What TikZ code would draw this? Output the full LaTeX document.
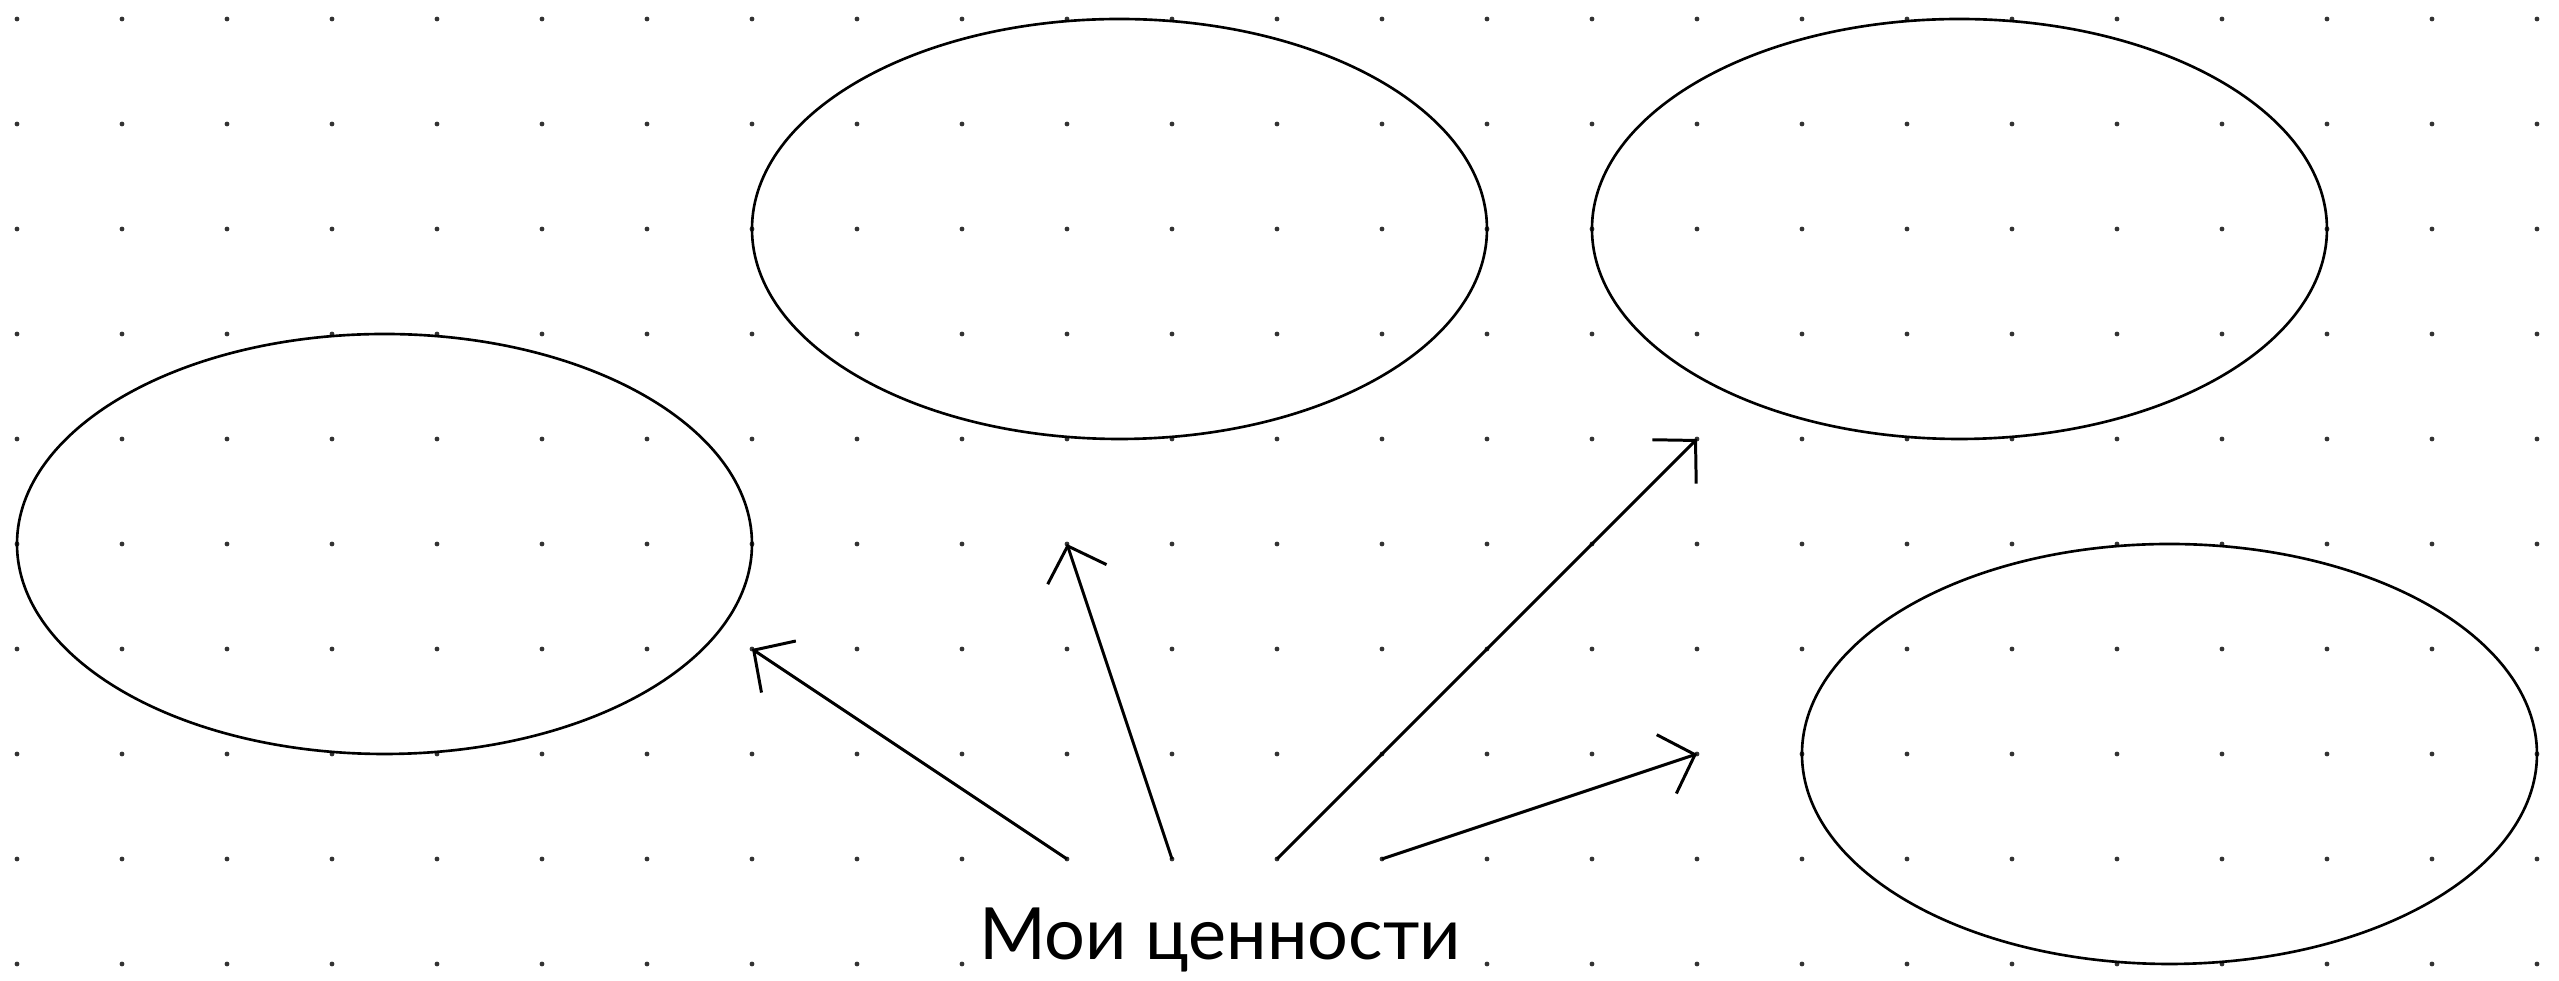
\documentclass[tikz,border=0pt]{standalone}
\usepackage{fontspec}
\newfontfamily\lblfont{Lato}
\usetikzlibrary{shapes.geometric,arrows.meta}
\tikzset{
  valuebox/.style={ellipse, draw=black, line width=0.75pt, minimum width=7.35cm, minimum height=4.2cm, inner sep=0pt},
  arr/.style={draw=black, line width=0.85pt, -{Straight Barb[length=0.3cm,width=0.62cm,line width=0.85pt]}},
  griddot/.style={fill=black!80},
  lbl/.style={font=\lblfont\fontsize{20.5}{24}\selectfont, fill=white, inner sep=4pt, anchor=base}
}
\begin{document}
\begin{tikzpicture}[x=1.05cm, y=-1.05cm]
\useasboundingbox (-0.1619,-0.181) rectangle (24.210,9.162);
\fill[white] (-0.1619,-0.181) rectangle (24.210,9.162);
% dot grid
\foreach \i in {0,...,24}{
  \foreach \j in {0,...,9}{
    \fill[griddot] (\i,\j) circle[radius=0.024cm];
  }
}
% ellipses
\node[valuebox] (e1) at (3.5,5) {};
\node[valuebox] (e2) at (10.5,2) {};
\node[valuebox] (e3) at (18.5,2) {};
\node[valuebox] (e4) at (20.5,7) {};
% label
\node[lbl] (t) at (11.457,8.962) {Мои ценности};
% arrow ends
\coordinate (s1) at (10,8);
\coordinate (s2) at (11,8);
\coordinate (s3) at (12,8);
\coordinate (s4) at (13,8);
\coordinate (p1) at (7,6);
\coordinate (p2) at (10,5);
\coordinate (p3) at (16,4);
\coordinate (p4) at (16,7);
\draw[arr] (s1) -- (p1);
\draw[arr] (s2) -- (p2);
\draw[arr] (s3) -- (p3);
\draw[arr] (s4) -- (p4);
\end{tikzpicture}
\end{document}
